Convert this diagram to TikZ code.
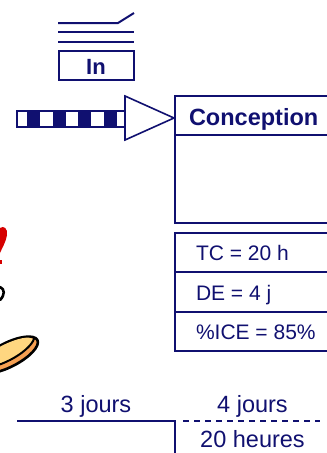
\documentclass[tikz,border=0pt]{standalone}
\usepackage{fontspec}
\setmainfont{Liberation Sans}

\definecolor{marine}{RGB}{16,16,112}
\definecolor{crepe}{RGB}{255,214,128}
\definecolor{bordcrepe}{RGB}{246,160,82}
\definecolor{rougevif}{RGB}{214,0,0}

\tikzset{
  cadre/.style={draw=marine, line width=2.2pt},
  texte/.style={text=marine, inner sep=0pt, font=\fontsize{21}{24}\selectfont},
  grand/.style={text=marine, inner sep=0pt, font=\fontsize{23.5}{26}\selectfont},
}

\begin{document}
\begin{tikzpicture}[x=1pt, y=-1pt, line width=2pt]

    \clip (0,0) rectangle (327,453);

    % -- Icone "In" : trois traits et la boite --
    \draw[marine] (58,23) -- (118,23) -- (134,13);
    \draw[marine] (58,32) -- (134,32);
    \draw[marine] (58,42) -- (134,42);
    \draw[cadre] (59,51) rectangle (134,80);
    \node[texte, anchor=base, font=\bfseries\fontsize{22}{24}\selectfont] (entree) at (96,74) {In};

    % -- Fleche rayee vers la tache --
    \draw[cadre, line width=1.6pt] (17,111) rectangle (125,127);
    \foreach \xa in {27, 52.5, 78, 103.5}
        \fill[marine] (\xa,111) rectangle (\xa+13,127);
    \coordinate (pointe) at (174,118);
    \draw[cadre, fill=white, line width=1.6pt, line join=miter]
        (125,96) -- (pointe) -- (125,140) -- cycle;

    % -- Tache "Conception" (coupee a droite) --
    \draw[cadre] (175,96) rectangle (340,223);
    \draw[cadre] (175,135) -- (340,135);
    \node[grand, anchor=base west, font=\bfseries\fontsize{23.5}{26}\selectfont] (conception) at (188,125) {Conception};

    % -- Indicateurs --
    \draw[cadre] (175,233) rectangle (340,351);
    \draw[cadre] (175,272) -- (340,272);
    \draw[cadre] (175,312) -- (340,312);
    \node[texte, anchor=base west] (tc)  at (195,260) {TC = 20 h};
    \node[texte, anchor=base west] (de)  at (195,300) {DE = 4 j};
    \node[texte, anchor=base west] (ice) at (195,339) {\%ICE = 85\%};

    % -- Echelle du temps en bas --
    \draw[cadre] (17,421) -- (175,421) -- (175,460);
    \draw[cadre, dash pattern=on 6pt off 5pt] (183,421) -- (320,421);
    \node[grand, anchor=base] (trois)  at (96,412)    {3 jours};
    \node[grand, anchor=base] (quatre) at (252.5,412) {4 jours};
    \node[grand, anchor=base] (heures) at (252.5,447) {20 heures};

    % -- Bout du dessin a gauche (crepe, poele) --
    \fill[rougevif] (0,228) .. controls (4,225) and (8,229) .. (7,235)
                    .. controls (6,242) and (2,248) .. (0,253) -- cycle;
    \fill[rougevif] (0,260) rectangle (2,264);
    \draw[black, line width=2.6pt, line cap=round]
        (0,287) .. controls (5,289) and (5,295) .. (0,300);

    \begin{scope}[shift={(8,355)}, rotate=27]
        \filldraw[fill=bordcrepe, draw=black, line width=2.6pt]
            (0,0) ellipse [x radius=33pt, y radius=12pt];
        \fill[crepe] (-1pt,2.5pt) ellipse [x radius=30pt, y radius=8.5pt];
        \draw[black, line width=2pt] (-30pt,2pt) .. controls (-20pt,-8pt) and (20pt,-8pt) .. (31pt,3pt);
    \end{scope}

\end{tikzpicture}
\end{document}
